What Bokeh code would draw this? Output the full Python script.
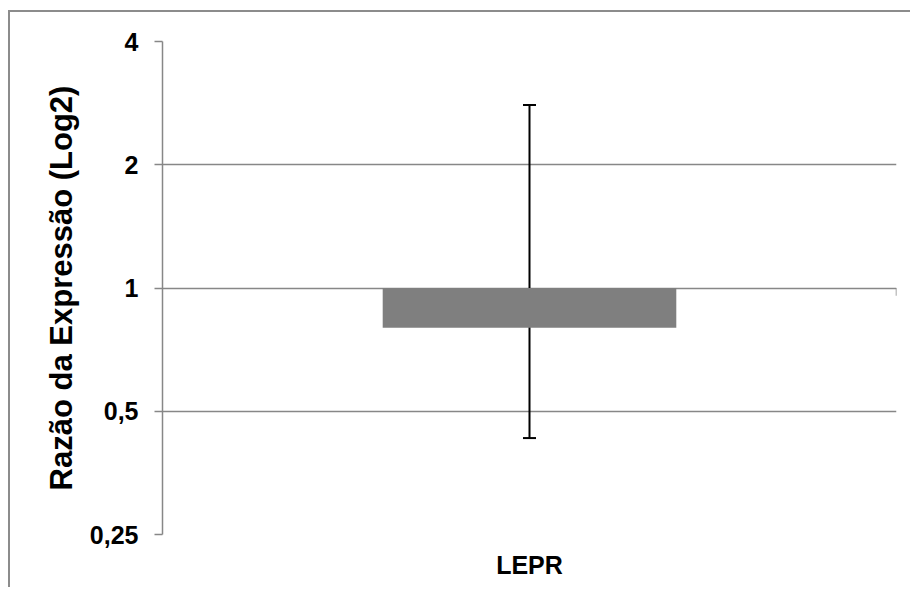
from bokeh.plotting import figure
from bokeh.models import FactorRange, FixedTicker, Whisker, TeeHead, ColumnDataSource
from bokeh.transform import dodge
from bokeh.embed import file_html
from bokeh.resources import INLINE

# data
categories = ["LEPR"]
ratio = [0.80]
err_low = [0.43]
err_high = [2.80]
baseline = [1.0]
tick_values = [0.25, 0.5, 1, 2, 4]
tick_labels = ["0,25", "0,5", "1", "2", "4"]
y_title = "Razão da Expressão (Log2)"

FONT = "Liberation Sans"
GRID = "#878787"

src = ColumnDataSource(dict(cat=categories, ratio=ratio, low=err_low, high=err_high, base=baseline))

p = figure(frame_width=734, frame_height=493, output_backend="svg", toolbar_location=None,
           x_range=FactorRange(factors=categories, range_padding=0),
           y_axis_type="log", y_range=(tick_values[0], tick_values[-1]),
           min_border_left=152, min_border_right=14, min_border_top=29, min_border_bottom=53)
p.outline_line_color = None
p.background_fill_color = "white"
p.border_fill_color = "white"
p.styles = {"border-left": "2px solid #8c8c8c", "border-top": "2px solid #8c8c8c",
            "margin-top": "10px", "margin-left": "8px"}

# bars hanging from 1
p.vbar(x="cat", top="base", bottom="ratio", width=0.4, source=src,
       fill_color="#7f7f7f", line_color=None)

# category boundary tick on the horizontal axis (crossing at 1)
p.segment(x0=dodge("cat", 0.5, range=p.x_range), x1=dodge("cat", 0.5, range=p.x_range),
          y0="base", y1=0.957, source=src, line_color=GRID, line_width=1.5)

w = Whisker(base="cat", lower="low", upper="high", source=src,
            line_color="black", line_width=2,
            lower_head=TeeHead(size=13, line_color="black", line_width=2),
            upper_head=TeeHead(size=13, line_color="black", line_width=2))
p.add_layout(w)

# y axis
ya = p.yaxis[0]
ya.ticker = FixedTicker(ticks=tick_values)
ya.major_label_overrides = {v: t for v, t in zip(tick_values, tick_labels)}
ya.axis_line_color = GRID
ya.axis_line_width = 1.5
ya.major_tick_line_color = GRID
ya.major_tick_line_width = 1.5
ya.major_tick_out = 8
ya.major_tick_in = 0
ya.minor_tick_line_color = None
ya.major_label_text_font = FONT
ya.major_label_text_font_style = "bold"
ya.major_label_text_font_size = "25px"
ya.major_label_text_color = "black"
ya.major_label_standoff = 16
ya.axis_label = y_title
ya.axis_label_text_font = FONT
ya.axis_label_text_font_style = "bold"
ya.axis_label_text_font_size = "31px"
ya.axis_label_text_color = "black"
ya.axis_label_standoff = 8

xa = p.xaxis[0]
xa.axis_line_color = None
xa.major_tick_line_color = None
xa.minor_tick_line_color = None
xa.major_label_text_font = FONT
xa.major_label_text_font_style = "bold"
xa.major_label_text_font_size = "25px"
xa.major_label_text_color = "black"
xa.major_label_standoff = 10

p.xgrid.grid_line_color = None
p.ygrid.grid_line_color = GRID
p.ygrid.grid_line_width = 1.5

open("out.html", "w").write(file_html(p, INLINE))
